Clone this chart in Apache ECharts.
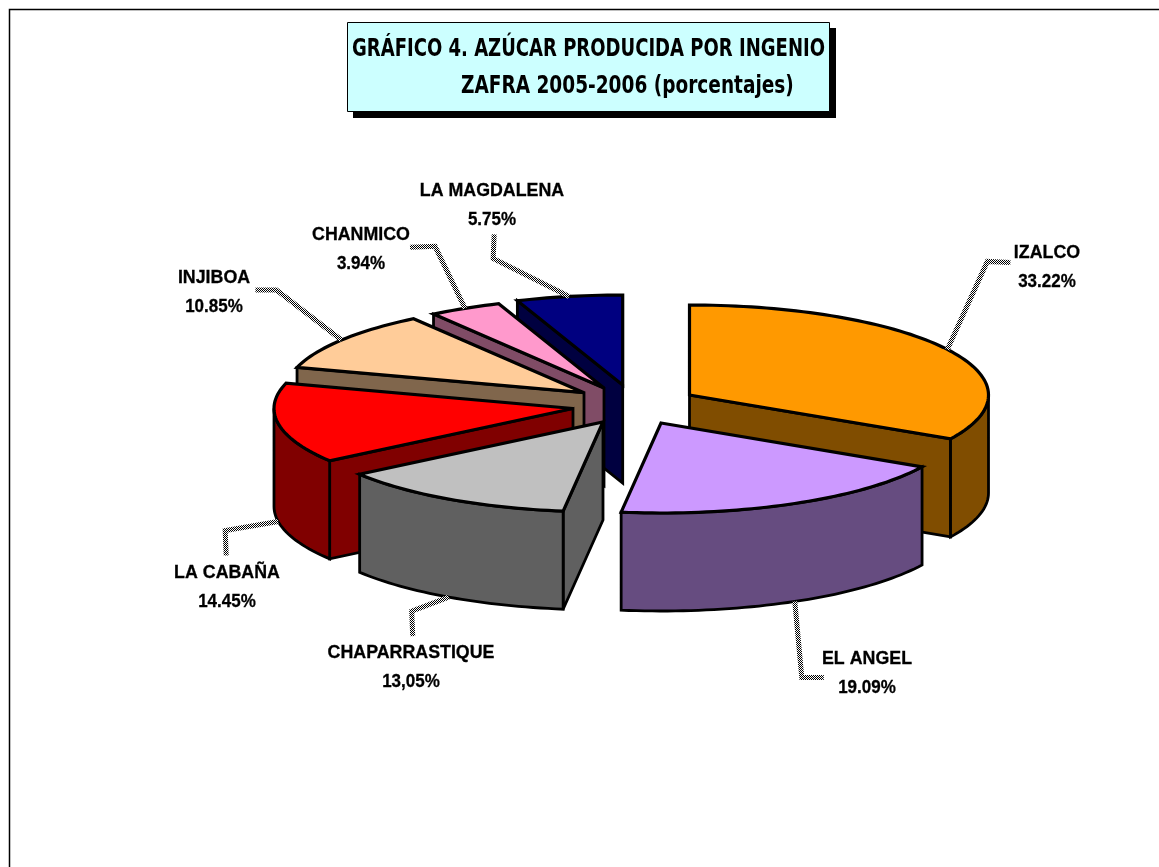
<!DOCTYPE html>
<html><head><meta charset="utf-8">
<style>html,body{margin:0;padding:0;background:#fff}#c{width:1159px;height:867px}</style>
<script src="https://cdn.jsdelivr.net/npm/echarts@6/dist/echarts.min.js"></script>
</head><body><div id="c"></div>
<script>
// ---- data ----
const categories = ['IZALCO','EL ANGEL','CHAPARRASTIQUE','LA CABAÑA','INJIBOA','CHANMICO','LA MAGDALENA'];
const shares = [33.22,19.09,13.05,14.45,10.85,3.94,5.75];
const shareLabels = ['33.22%','19.09%','13,05%','14.45%','10.85%','3.94%','5.75%'];
// ---- styling / layout ----
const topColors  = ['#FF9900','#CC99FF','#C0C0C0','#FF0000','#FFCC99','#FF99CC','#000080'];
const sideColors = ['#804D00','#664C80','#606060','#800000','#80664C','#804C66','#000040'];
const RX = 299, RY = 90, DEPTH = 98;
const apexes = [[689.5,395],[661,423],[603,422],[573,408.5],[584,392.7],[604,388],[622.7,385]];
const paintRank = [5,6,4,3,2,1,0];
// leader: elbow and end, offsets from slice's arc midpoint
const leaderElbow = [[40,-88],[7,76],[-37,14],[-53,9],[-65,-50],[-30,-62],[-76,-38]];
const leaderEnd   = [[63,-87],[29,76],[-36,39],[-52,34],[-86,-50],[-55,-61],[-75,-62]];
const labelCenters = [[1047,253],[867,659],[411,653],[227,573],[214,278],[361,235],[492,191]];
const LINE_GAP = 28.5;

const total = shares.reduce((a,b)=>a+b,0);
const cum = []; shares.reduce((a,v,i)=>(cum[i]=[a/total*360,(a+v)/total*360],a+v),0);
const rad = d=>d*Math.PI/180;
function pt(c,deg,drop){return [c[0]+RX*Math.sin(rad(deg)), c[1]-RY*Math.cos(rad(deg))+(drop||0)];}
function arc(c,a,b,drop){const n=Math.max(2,Math.ceil(Math.abs(b-a)/1.5));const r=[];for(let i=0;i<=n;i++)r.push(pt(c,a+(b-a)*i/n,drop));return r;}

const checker = document.createElement('canvas'); checker.width=2; checker.height=2;
(function(){const g=checker.getContext('2d');g.fillStyle='#fff';g.fillRect(0,0,2,2);g.fillStyle='#000';g.fillRect(0,0,1,1);g.fillRect(1,1,1,1);})();

function poly(points,fill,z2,lw){return {type:'polygon',z2:z2,shape:{points:points},style:{fill:fill,stroke:'#000',lineWidth:lw,lineJoin:'miter',miterLimit:4}};}

function renderSlice(params){
  const i = params.dataIndex, c = apexes[i], a = cum[i][0], b = cum[i][1], z = paintRank[i]*10;
  const kids = [];
  const face = (deg)=>{const p=pt(c,deg);return poly([c,p,[p[0],p[1]+DEPTH],[c[0],c[1]+DEPTH]],sideColors[i],z,2.8);};
  if (Math.sin(rad(a))<-1e-6) kids.push(face(a));
  if (Math.sin(rad(b))>1e-6) kids.push(face(b));
  const wa=Math.max(a,90), wb=Math.min(b,270);
  if (wb>wa){kids.push(poly(arc(c,wa,wb,0).concat(arc(c,wb,wa,DEPTH)),sideColors[i],z+1,2.8));}
  kids.push(poly([c].concat(arc(c,a,b,0)),topColors[i],z+2,3.2));
  // leader
  const mid=(a+b)/2, drop=(mid>90&&mid<270)?DEPTH:0, s=pt(c,mid,drop);
  const p1=[s[0]+leaderElbow[i][0],s[1]+leaderElbow[i][1]], p2=[s[0]+leaderEnd[i][0],s[1]+leaderEnd[i][1]];
  kids.push({type:'polyline',z2:200,shape:{points:[s,p1,p2]},style:{fill:null,stroke:{image:checker,repeat:'repeat'},lineWidth:5,lineJoin:'miter'}});
  // labels
  const t=labelCenters[i];
  const mk=(txt,y,sx)=>({type:'text',z2:210,x:t[0],y:y,scaleX:sx,style:{text:txt,x:0,y:0,align:'center',verticalAlign:'middle',fill:'#000',stroke:'#000',lineWidth:0.3,font:'bold 19px "Liberation Sans", Arial, sans-serif'}});
  kids.push(mk(categories[i],t[1],0.937),mk(shareLabels[i],t[1]+LINE_GAP,0.895));
  return {type:'group',children:kids};
}

const chart = echarts.init(document.getElementById('c'),null,{renderer:'canvas'});
const titleFont='bold 24px "DejaVu Sans Condensed","DejaVu Sans",sans-serif';
chart.setOption({
  animation:false,
  backgroundColor:'#fff',
  graphic:[
    {type:'polyline',silent:true,shape:{points:[[9.5,867],[9.5,9.5],[1159,9.5]]},style:{fill:null,stroke:'#000',lineWidth:1.5}},
    {type:'rect',silent:true,shape:{x:353,y:28,width:483,height:90},style:{fill:'#000'}},
    {type:'rect',silent:true,shape:{x:347.5,y:22.5,width:482,height:89},style:{fill:'#CCFFFF',stroke:'#000',lineWidth:1}},
    {type:'text',silent:true,x:352,y:49.5,scaleX:0.835,style:{text:'GRÁFICO 4. AZÚCAR PRODUCIDA POR INGENIO',font:titleFont,fill:'#000',verticalAlign:'middle'}},
    {type:'text',silent:true,x:461,y:87,scaleX:0.858,style:{text:'ZAFRA 2005-2006 (porcentajes)',font:titleFont,fill:'#000',verticalAlign:'middle'}}
  ],
  series:[{type:'custom',coordinateSystem:'none',silent:true,renderItem:renderSlice,data:shares.map((v,i)=>({name:categories[i],value:v}))}]
});
</script></body></html>
